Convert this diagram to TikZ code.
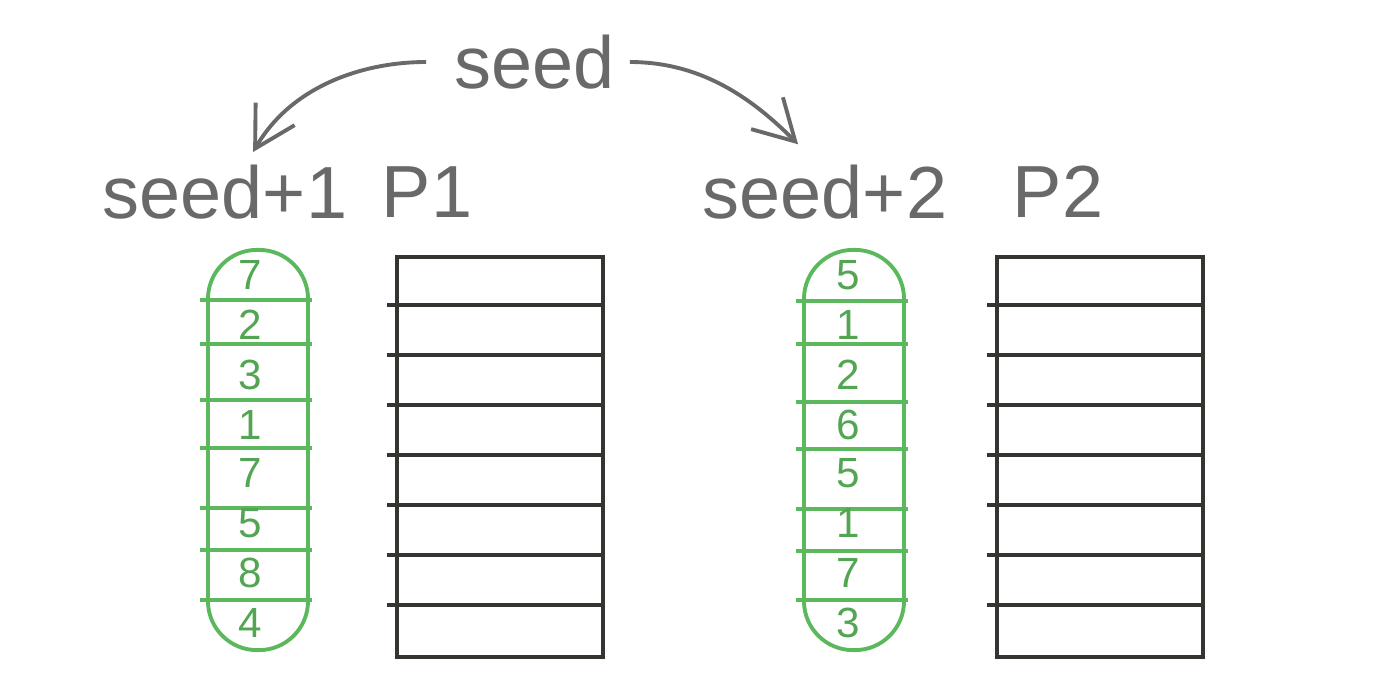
\documentclass[tikz,border=0pt]{standalone}
\usepackage{fontspec}
\setmainfont{Liberation Sans}
\usetikzlibrary{arrows.meta}
\definecolor{pencil}{RGB}{105,105,105}
\definecolor{marker}{RGB}{92,184,92}
\definecolor{ink}{RGB}{52,52,48}
\tikzstyle{word}=[text=pencil, inner sep=0pt, font=\fontsize{21}{25}\selectfont]
\tikzstyle{digit}=[text=marker!90!black, inner sep=0pt, font=\fontsize{12}{14}\selectfont]
\tikzstyle{pill}=[draw=marker, line width=1.1pt, rounded corners=4.9mm, minimum width=1cm, minimum height=4cm]
\tikzstyle{table}=[draw=ink, line width=1.1pt, minimum width=2.06cm, minimum height=4cm]
\tikzstyle{fork}=[pencil, line width=1.1pt, -{Straight Barb[length=4mm, width=4.5mm]}]

\begin{document}
\begin{tikzpicture}[x=0.01cm, y=-0.01cm]
          \useasboundingbox (0, 0) rectangle (1400, 700);
          \node[word] (seed) at (535, 62) {seed};
          \node[word] (s1) at (225, 192) {seed+1};
          \node[word] (p1) at (427, 192) {P1};
          \node[word] (s2) at (825, 192) {seed+2};
          \node[word] (p2) at (1058, 192) {P2};
          \draw[fork, shorten <=8pt, shorten >=4pt]
            (seed.west) to[out=180, in=60] ([xshift=6pt]s1.north);
          \draw[fork, shorten <=4pt, shorten >=8pt]
            (seed.east) to[out=0, in=135] ([xshift=-2pt]s2.north);
          % left pair
          \node[pill] (g1) at (258, 450) {};
          \node[table] (t1) at (500, 457) {};
          \foreach \y in {300, 344, 400, 448, 508, 550, 600}
            \draw[marker, line width=1.1pt, shorten <=-0.6mm, shorten >=-0.2mm]
              (g1.west |- 0, \y) -- (g1.east |- 0, \y);
          \foreach \n [count=\i] in {7, 2, 3, 1, 7, 5, 8, 4}
            \node[digit] (a\i) at (250, {275 + 50*(\i - 1) - 2*(\i > 4)}) {\n};
          \foreach \i in {1, ..., 7}
            \draw[ink, line width=1.1pt, shorten <=-0.8mm]
              ([yshift=-\i*5mm]t1.north west) -- ([yshift=-\i*5mm]t1.north east);
          % right pair
          \node[pill] (g2) at (854, 450) {};
          \node[table] (t2) at (1100, 457) {};
          \foreach \y in {301, 344, 402, 449, 509, 551, 600}
            \draw[marker, line width=1.1pt, shorten <=-0.6mm, shorten >=-0.2mm]
              (g2.west |- 0, \y) -- (g2.east |- 0, \y);
          \foreach \n [count=\i] in {5, 1, 2, 6, 5, 1, 7, 3}
            \node[digit] (b\i) at (848, {275 + 50*(\i - 1) - 2*(\i > 4)}) {\n};
          \foreach \i in {1, ..., 7}
            \draw[ink, line width=1.1pt, shorten <=-0.8mm]
              ([yshift=-\i*5mm]t2.north west) -- ([yshift=-\i*5mm]t2.north east);
        \end{tikzpicture}
\end{document}
